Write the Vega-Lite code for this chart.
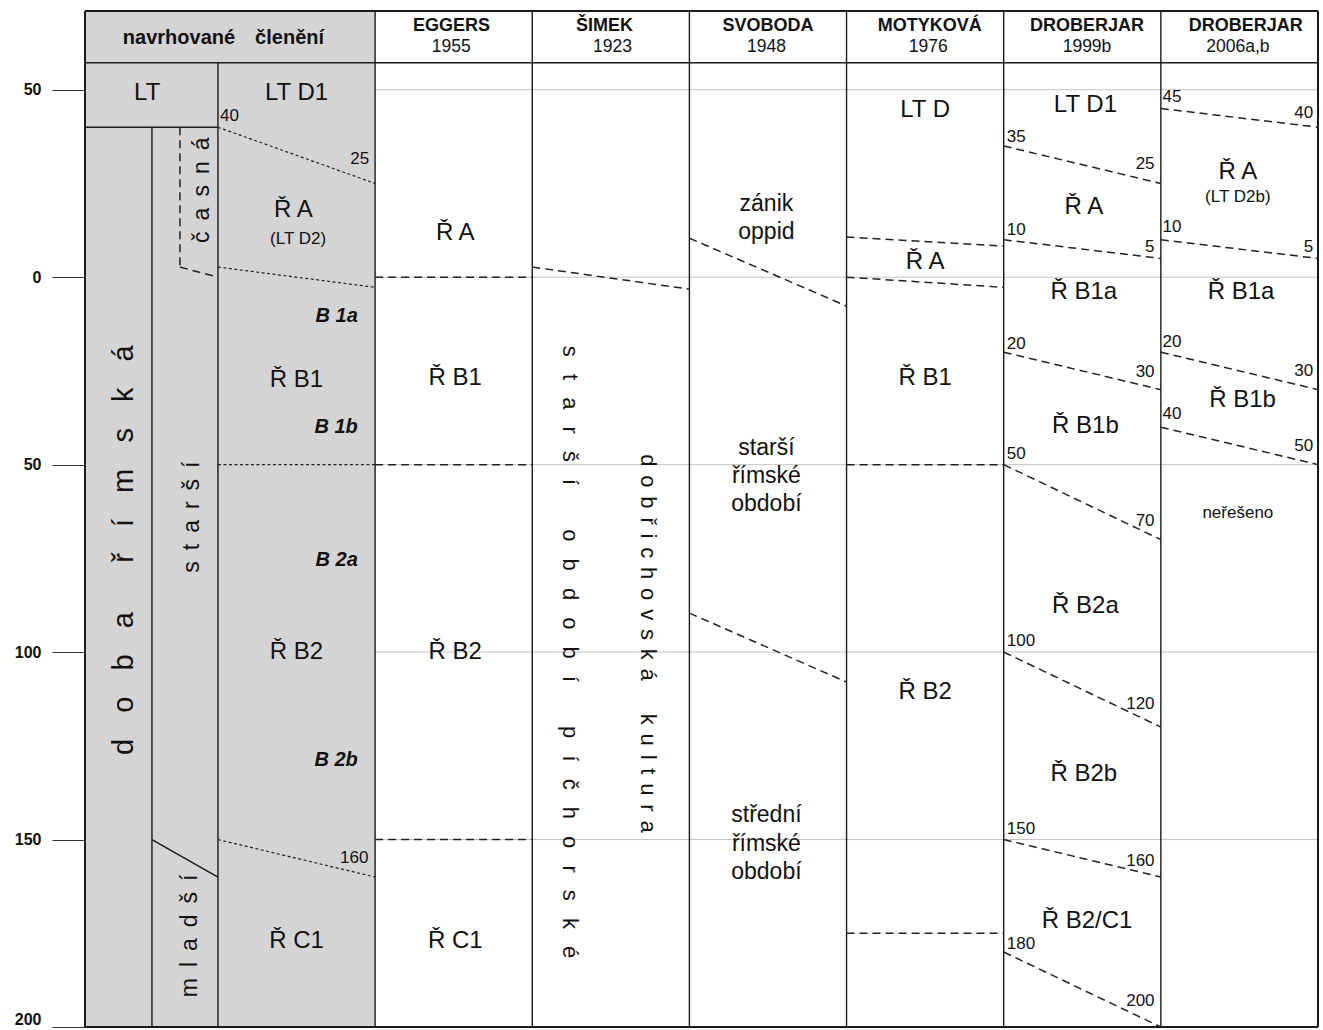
{
  "$schema": "https://vega.github.io/schema/vega-lite/v6.json",
  "width": 1233,
  "height": 1016,
  "autosize": {"type": "none"},
  "padding": {"left": 85, "top": 11, "right": 5, "bottom": 3},
  "background": "white",
  "config": {"view": {"stroke": null}, "font": "Liberation Sans"},
  "datasets": {
    "bg": [{"x": -0.846, "x2": 1, "y": -71, "y2": 200}],
    "grid": [
      {"x": 1, "x2": 7, "y": -50, "y2": -50},
      {"x": 1, "x2": 7, "y": 0, "y2": 0},
      {"x": 1, "x2": 7, "y": 50, "y2": 50},
      {"x": 1, "x2": 7, "y": 100, "y2": 100},
      {"x": 1, "x2": 7, "y": 150, "y2": 150}
    ],
    "solid": [
      {"kind": "frame", "x": -0.846, "x2": 7, "y": -71, "y2": -71},
      {"kind": "frame", "x": -0.846, "x2": 7, "y": 200, "y2": 200},
      {"kind": "frame", "x": -0.846, "x2": -0.846, "y": -71, "y2": 200},
      {"kind": "frame", "x": 7, "x2": 7, "y": -71, "y2": 200},
      {"kind": "inner", "x": -0.846, "x2": 7, "y": -57.2, "y2": -57.2},
      {"kind": "inner", "x": 0, "x2": 0, "y": -57.2, "y2": 200},
      {"kind": "inner", "x": 1, "x2": 1, "y": -71, "y2": 200},
      {"kind": "inner", "x": 2, "x2": 2, "y": -71, "y2": 200},
      {"kind": "inner", "x": 3, "x2": 3, "y": -71, "y2": 200},
      {"kind": "inner", "x": 4, "x2": 4, "y": -71, "y2": 200},
      {"kind": "inner", "x": 5, "x2": 5, "y": -71, "y2": 200},
      {"kind": "inner", "x": 6, "x2": 6, "y": -71, "y2": 200},
      {"kind": "inner", "x": -0.846, "x2": 0, "y": -40, "y2": -40},
      {"kind": "inner", "x": -0.42, "x2": -0.42, "y": -40, "y2": 200},
      {"kind": "inner", "x": -0.42, "x2": 0, "y": 150, "y2": 160}
    ],
    "dotted": [
      {"x": 0, "x2": 1, "y": -40, "y2": -25},
      {"x": 0, "x2": 1, "y": -2.7, "y2": 2.7},
      {"x": 0, "x2": 1, "y": 50, "y2": 50},
      {"x": 0, "x2": 1, "y": 150, "y2": 160}
    ],
    "dashed": [
      {"x": -0.242, "x2": -0.242, "y": -40, "y2": -2.7},
      {"x": -0.242, "x2": 0, "y": -2.7, "y2": 0},
      {"x": 1, "x2": 2, "y": 0, "y2": 0},
      {"x": 1, "x2": 2, "y": 50, "y2": 50},
      {"x": 1, "x2": 2, "y": 150, "y2": 150},
      {"x": 2, "x2": 3, "y": -2.7, "y2": 3.2},
      {"x": 3, "x2": 4, "y": -10.4, "y2": 7.7},
      {"x": 3, "x2": 4, "y": 89.6, "y2": 108},
      {"x": 4, "x2": 5, "y": -10.7, "y2": -8.3},
      {"x": 4, "x2": 5, "y": 0, "y2": 2.7},
      {"x": 4, "x2": 5, "y": 50, "y2": 50},
      {"x": 4, "x2": 5, "y": 175, "y2": 175},
      {"x": 5, "x2": 6, "y": -35, "y2": -25},
      {"x": 5, "x2": 6, "y": -10, "y2": -5},
      {"x": 5, "x2": 6, "y": 20, "y2": 30},
      {"x": 5, "x2": 6, "y": 50, "y2": 70},
      {"x": 5, "x2": 6, "y": 100, "y2": 120},
      {"x": 5, "x2": 6, "y": 150, "y2": 160},
      {"x": 5, "x2": 6, "y": 180, "y2": 200},
      {"x": 6, "x2": 7, "y": -45, "y2": -40},
      {"x": 6, "x2": 7, "y": -10, "y2": -5},
      {"x": 6, "x2": 7, "y": 20, "y2": 30},
      {"x": 6, "x2": 7, "y": 40, "y2": 50}
    ],
    "texts": [
      {"kind": "head_main", "x": 0.035, "y": -63.9, "t": "navrhované\u2003členění"},
      {"kind": "head_name", "x": 1.486, "y": -67, "t": "EGGERS"},
      {"kind": "head_name", "x": 2.46, "y": -67, "t": "ŠIMEK"},
      {"kind": "head_name", "x": 3.5, "y": -67, "t": "SVOBODA"},
      {"kind": "head_name", "x": 4.53, "y": -67, "t": "MOTYKOVÁ"},
      {"kind": "head_name", "x": 5.53, "y": -67, "t": "DROBERJAR"},
      {"kind": "head_name", "x": 6.54, "y": -67, "t": "DROBERJAR"},
      {"kind": "head_year", "x": 1.485, "y": -61.3, "t": "1955"},
      {"kind": "head_year", "x": 2.51, "y": -61.3, "t": "1923"},
      {"kind": "head_year", "x": 3.49, "y": -61.3, "t": "1948"},
      {"kind": "head_year", "x": 4.52, "y": -61.3, "t": "1976"},
      {"kind": "head_year", "x": 5.53, "y": -61.3, "t": "1999b"},
      {"kind": "head_year", "x": 6.49, "y": -61.3, "t": "2006a,b"},
      {"kind": "period", "x": -0.45, "y": -49.2, "t": "LT"},
      {"kind": "period", "x": 0.5, "y": -49.2, "t": "LT D1"},
      {"kind": "period", "x": 0.48, "y": -17.9, "t": "Ř A"},
      {"kind": "period", "x": 0.5, "y": 27.5, "t": "Ř B1"},
      {"kind": "period", "x": 0.5, "y": 100, "t": "Ř B2"},
      {"kind": "period", "x": 0.5, "y": 177, "t": "Ř C1"},
      {"kind": "period", "x": 1.51, "y": -11.9, "t": "Ř A"},
      {"kind": "period", "x": 1.51, "y": 27, "t": "Ř B1"},
      {"kind": "period", "x": 1.51, "y": 100, "t": "Ř B2"},
      {"kind": "period", "x": 1.51, "y": 177, "t": "Ř C1"},
      {"kind": "period", "x": 4.5, "y": -44.5, "t": "LT D"},
      {"kind": "period", "x": 4.5, "y": -4, "t": "Ř A"},
      {"kind": "period", "x": 4.5, "y": 27, "t": "Ř B1"},
      {"kind": "period", "x": 4.5, "y": 110.7, "t": "Ř B2"},
      {"kind": "period", "x": 5.52, "y": -45.9, "t": "LT D1"},
      {"kind": "period", "x": 5.51, "y": -18.7, "t": "Ř A"},
      {"kind": "period", "x": 5.51, "y": 4, "t": "Ř B1a"},
      {"kind": "period", "x": 5.52, "y": 39.7, "t": "Ř B1b"},
      {"kind": "period", "x": 5.52, "y": 87.7, "t": "Ř B2a"},
      {"kind": "period", "x": 5.51, "y": 132.5, "t": "Ř B2b"},
      {"kind": "period", "x": 5.53, "y": 171.7, "t": "Ř B2/C1"},
      {"kind": "period", "x": 6.49, "y": -28, "t": "Ř A"},
      {"kind": "period", "x": 6.51, "y": 4, "t": "Ř B1a"},
      {"kind": "period", "x": 6.52, "y": 32.8, "t": "Ř B1b"},
      {"kind": "desc", "x": 3.49, "y": -19.5, "t": "zánik"},
      {"kind": "desc", "x": 3.49, "y": -12, "t": "oppid"},
      {"kind": "desc", "x": 3.49, "y": 45.5, "t": "starší"},
      {"kind": "desc", "x": 3.49, "y": 53, "t": "římské"},
      {"kind": "desc", "x": 3.49, "y": 60.5, "t": "období"},
      {"kind": "desc", "x": 3.49, "y": 143.5, "t": "střední"},
      {"kind": "desc", "x": 3.49, "y": 151.2, "t": "římské"},
      {"kind": "desc", "x": 3.49, "y": 158.7, "t": "období"},
      {"kind": "note", "x": 0.51, "y": -10.1, "t": "(LT D2)"},
      {"kind": "note", "x": 6.49, "y": -21.3, "t": "(LT D2b)"},
      {"kind": "note", "x": 6.49, "y": 63, "t": "neřešeno"},
      {"kind": "sub", "x": 0.89, "y": 10.4, "t": "B 1a"},
      {"kind": "sub", "x": 0.89, "y": 40, "t": "B 1b"},
      {"kind": "sub", "x": 0.89, "y": 75.5, "t": "B 2a"},
      {"kind": "sub", "x": 0.89, "y": 128.8, "t": "B 2b"},
      {"kind": "numL", "x": 0.013, "y": -43, "t": "40"},
      {"kind": "numL", "x": 5.02, "y": -37.3, "t": "35"},
      {"kind": "numL", "x": 5.02, "y": -12.5, "t": "10"},
      {"kind": "numL", "x": 5.02, "y": 17.9, "t": "20"},
      {"kind": "numL", "x": 5.02, "y": 47.2, "t": "50"},
      {"kind": "numL", "x": 5.02, "y": 97, "t": "100"},
      {"kind": "numL", "x": 5.02, "y": 147.2, "t": "150"},
      {"kind": "numL", "x": 5.02, "y": 177.9, "t": "180"},
      {"kind": "numL", "x": 6.01, "y": -48, "t": "45"},
      {"kind": "numL", "x": 6.01, "y": -13.3, "t": "10"},
      {"kind": "numL", "x": 6.01, "y": 17.4, "t": "20"},
      {"kind": "numL", "x": 6.01, "y": 36.5, "t": "40"},
      {"kind": "numR", "x": 0.962, "y": -31.5, "t": "25"},
      {"kind": "numR", "x": 0.958, "y": 155, "t": "160"},
      {"kind": "numR", "x": 5.96, "y": -30.1, "t": "25"},
      {"kind": "numR", "x": 5.96, "y": -8, "t": "5"},
      {"kind": "numR", "x": 5.96, "y": 25.4, "t": "30"},
      {"kind": "numR", "x": 5.96, "y": 65, "t": "70"},
      {"kind": "numR", "x": 5.96, "y": 113.9, "t": "120"},
      {"kind": "numR", "x": 5.96, "y": 155.7, "t": "160"},
      {"kind": "numR", "x": 5.96, "y": 193, "t": "200"},
      {"kind": "numR", "x": 6.97, "y": -43.7, "t": "40"},
      {"kind": "numR", "x": 6.97, "y": -8, "t": "5"},
      {"kind": "numR", "x": 6.97, "y": 25, "t": "30"},
      {"kind": "numR", "x": 6.97, "y": 45, "t": "50"},
      {"kind": "vert_down", "x": 2.24, "y": 100, "t": "s\u2002\u00a0t\u2002\u00a0a\u2002\u00a0r\u2002\u00a0š\u2002\u00a0í\u2003\u2003o\u2002\u00a0b\u2002\u00a0d\u2002\u00a0o\u2002\u00a0b\u2002\u00a0í\u2003\u2003p\u2002\u00a0í\u2002\u00a0č\u2002\u00a0h\u2002\u00a0o\u2002\u00a0r\u2002\u00a0s\u2002\u00a0k\u2002\u00a0é"},
      {"kind": "vert_down", "x": 2.736, "y": 97.7, "t": "d\u2009\u2009o\u2009\u2009b\u2009\u2009ř\u2009\u2009i\u2009\u2009c\u2009\u2009h\u2009\u2009o\u2009\u2009v\u2009\u2009s\u2009\u2009k\u2009\u2009á\u2003\u2002k\u2009\u2009u\u2009\u2009l\u2009\u2009t\u2009\u2009u\u2009\u2009r\u2009\u2009a"},
      {"kind": "vert_up_big", "x": -0.598, "y": 72.8, "t": "d\u2002\u2009\u2009o\u2002\u2009\u2009b\u2002\u2009\u2009a\u2003\u2002\u2009ř\u2002\u2009\u2009í\u2002\u2009\u2009m\u2002\u2009\u2009s\u2002\u2009\u2009k\u2002\u2009\u2009á"},
      {"kind": "vert_up", "x": -0.165, "y": 64, "t": "s\u00a0\u2009t\u00a0\u2009a\u00a0\u2009r\u00a0\u2009š\u00a0\u2009í"},
      {"kind": "vert_up", "x": -0.1, "y": -23.2, "t": "č\u00a0\u2009a\u00a0\u2009s\u00a0\u2009n\u00a0\u2009á"},
      {"kind": "vert_up", "x": -0.178, "y": 175.7, "t": "m\u00a0\u2009l\u00a0\u2009a\u00a0\u2009d\u00a0\u2009š\u00a0\u2009í"}
    ]
  },
  "encoding": {
    "x": {"field": "x", "type": "quantitative", "scale": {"domain": [-0.846, 7], "nice": false, "zero": false}, "axis": null},
    "y": {
      "field": "y", "type": "quantitative",
      "scale": {"domain": [-71, 200], "reverse": true, "nice": false, "zero": false},
      "axis": {
        "values": [-50, 0, 50, 100, 150, 200],
        "labelExpr": "abs(datum.value)",
        "tickSize": 33, "tickColor": "#333", "tickWidth": 1,
        "domain": false, "grid": false, "title": null,
        "labelFont": "Liberation Sans", "labelFontSize": 16, "labelFontWeight": "bold",
        "labelColor": "#111", "labelPadding": 11, "labelFlush": true
      }
    }
  },
  "layer": [
    {
      "data": {"name": "bg"},
      "mark": {"type": "rect", "fill": "#d4d4d4"},
      "encoding": {"x2": {"field": "x2"}, "y2": {"field": "y2"}}
    },
    {
      "data": {"name": "grid"},
      "mark": {"type": "rule", "stroke": "#c4c4c4", "strokeWidth": 1},
      "encoding": {"x2": {"field": "x2"}, "y2": {"field": "y2"}}
    },
    {
      "data": {"name": "solid"},
      "transform": [{"filter": "datum.kind === 'inner'"}],
      "mark": {"type": "rule", "stroke": "#1a1a1a", "strokeWidth": 1.4},
      "encoding": {"x2": {"field": "x2"}, "y2": {"field": "y2"}}
    },
    {
      "data": {"name": "solid"},
      "transform": [{"filter": "datum.kind === 'frame'"}],
      "mark": {"type": "rule", "stroke": "#1a1a1a", "strokeWidth": 2},
      "encoding": {"x2": {"field": "x2"}, "y2": {"field": "y2"}}
    },
    {
      "data": {"name": "dotted"},
      "mark": {"type": "rule", "stroke": "#222", "strokeWidth": 1.2, "strokeDash": [3, 2.5]},
      "encoding": {"x2": {"field": "x2"}, "y2": {"field": "y2"}}
    },
    {
      "data": {"name": "dashed"},
      "mark": {"type": "rule", "stroke": "#222", "strokeWidth": 1.5, "strokeDash": [8, 5]},
      "encoding": {"x2": {"field": "x2"}, "y2": {"field": "y2"}}
    },
    {
      "data": {"name": "texts"},
      "transform": [{"filter": "datum.kind === 'head_main'"}],
      "mark": {"type": "text", "font": "Liberation Sans", "fontSize": 20, "fontWeight": "bold", "color": "#111", "align": "center", "baseline": "middle"},
      "encoding": {"text": {"field": "t"}}
    },
    {
      "data": {"name": "texts"},
      "transform": [{"filter": "datum.kind === 'head_name'"}],
      "mark": {"type": "text", "font": "Liberation Sans", "fontSize": 18, "fontWeight": "bold", "color": "#111", "align": "center", "baseline": "middle"},
      "encoding": {"text": {"field": "t"}}
    },
    {
      "data": {"name": "texts"},
      "transform": [{"filter": "datum.kind === 'head_year'"}],
      "mark": {"type": "text", "font": "Liberation Sans", "fontSize": 17.5, "color": "#111", "align": "center", "baseline": "middle"},
      "encoding": {"text": {"field": "t"}}
    },
    {
      "data": {"name": "texts"},
      "transform": [{"filter": "datum.kind === 'period'"}],
      "mark": {"type": "text", "font": "Liberation Sans", "fontSize": 24, "color": "#111", "align": "center", "baseline": "middle"},
      "encoding": {"text": {"field": "t"}}
    },
    {
      "data": {"name": "texts"},
      "transform": [{"filter": "datum.kind === 'desc'"}],
      "mark": {"type": "text", "font": "Liberation Sans", "fontSize": 23, "color": "#111", "align": "center", "baseline": "middle"},
      "encoding": {"text": {"field": "t"}}
    },
    {
      "data": {"name": "texts"},
      "transform": [{"filter": "datum.kind === 'note'"}],
      "mark": {"type": "text", "font": "Liberation Sans", "fontSize": 17, "color": "#111", "align": "center", "baseline": "middle"},
      "encoding": {"text": {"field": "t"}}
    },
    {
      "data": {"name": "texts"},
      "transform": [{"filter": "datum.kind === 'sub'"}],
      "mark": {"type": "text", "font": "Liberation Sans", "fontSize": 20, "fontWeight": "bold", "fontStyle": "italic", "color": "#111", "align": "right", "baseline": "middle"},
      "encoding": {"text": {"field": "t"}}
    },
    {
      "data": {"name": "texts"},
      "transform": [{"filter": "datum.kind === 'numL'"}],
      "mark": {"type": "text", "font": "Liberation Sans", "fontSize": 17, "color": "#111", "align": "left", "baseline": "middle"},
      "encoding": {"text": {"field": "t"}}
    },
    {
      "data": {"name": "texts"},
      "transform": [{"filter": "datum.kind === 'numR'"}],
      "mark": {"type": "text", "font": "Liberation Sans", "fontSize": 17, "color": "#111", "align": "right", "baseline": "middle"},
      "encoding": {"text": {"field": "t"}}
    },
    {
      "data": {"name": "texts"},
      "transform": [{"filter": "datum.kind === 'vert_down'"}],
      "mark": {"type": "text", "font": "Liberation Sans", "fontSize": 22, "color": "#111", "align": "center", "baseline": "middle", "angle": 90},
      "encoding": {"text": {"field": "t"}}
    },
    {
      "data": {"name": "texts"},
      "transform": [{"filter": "datum.kind === 'vert_up_big'"}],
      "mark": {"type": "text", "font": "Liberation Sans", "fontSize": 29, "color": "#111", "align": "center", "baseline": "middle", "angle": 270},
      "encoding": {"text": {"field": "t"}}
    },
    {
      "data": {"name": "texts"},
      "transform": [{"filter": "datum.kind === 'vert_up'"}],
      "mark": {"type": "text", "font": "Liberation Sans", "fontSize": 23, "color": "#111", "align": "center", "baseline": "middle", "angle": 270},
      "encoding": {"text": {"field": "t"}}
    }
  ]
}
